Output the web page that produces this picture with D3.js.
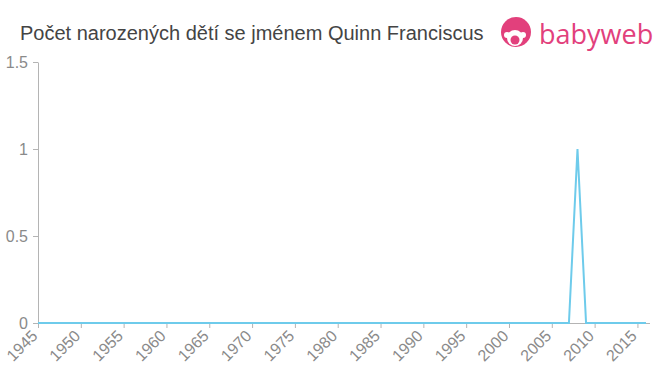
<!DOCTYPE html>
<html>
<head>
<meta charset="utf-8">
<script src="https://cdn.jsdelivr.net/npm/d3@7"></script>
<style>
body { margin: 0; background: #fff; font-family: "Liberation Sans", Arial, sans-serif; }
.axis path, .axis line { stroke: #b4b4b4; }
</style>
</head>
<body>
<div id="chart"></div>
<script>
// data
var years = d3.range(1945, 2017);
var births = years.map(function(y){ return y == 2008 ? 1 : 0; });
var xTicks = d3.range(1945, 2016, 5);
var yTicks = [0, 0.5, 1, 1.5];
var title = "Počet narozených dětí se jménem Quinn Franciscus";

var svg = d3.select("#chart").append("svg").attr("width", 660).attr("height", 375);

var x = d3.scaleLinear().domain([1945, 2016]).range([38, 646]);
var y = d3.scaleLinear().domain([0, 1.5]).range([323, 62]);

svg.append("text").attr("x", 20).attr("y", 40)
    .style("font-size", "20px").style("fill", "#444")
    .text(title);

// logo
var logo = svg.append("g").attr("transform", "translate(516,32)");
logo.append("circle").attr("r", 15).attr("fill", "#e2407c");
logo.append("circle").attr("cx", -1).attr("cy", 6).attr("r", 8).attr("fill", "#fff");
logo.append("circle").attr("cx", -1).attr("cy", 8).attr("r", 4.5).attr("fill", "#e2407c");
logo.append("circle").attr("cx", -9).attr("cy", 3).attr("r", 3).attr("fill", "#fff");
logo.append("circle").attr("cx", 7).attr("cy", 3).attr("r", 3).attr("fill", "#fff");
svg.append("text").attr("x", 539).attr("y", 44)
    .style("font-size", "27px").style("fill", "#e2407c")
    .style("font-family", "'Open Sans', 'DejaVu Sans', sans-serif")
    .text("babyweb");

var gx = svg.append("g").attr("class", "axis").attr("transform", "translate(0,323)")
    .call(d3.axisBottom(x).tickValues(xTicks).tickFormat(d3.format("d")).tickSize(5).tickSizeOuter(0));
gx.select(".domain").attr("d", "M38,0.5H650");
gx.selectAll("text")
    .style("font-size", "16px").style("fill", "#8a8a8a")
    .style("font-family", "'Liberation Sans', Arial, sans-serif")
    .attr("text-anchor", "end")
    .attr("x", 0).attr("y", 0)
    .attr("dx", 0).attr("dy", "0.35em")
    .attr("transform", "translate(-4,10) rotate(-45)");

var gy = svg.append("g").attr("class", "axis").attr("transform", "translate(38,0)")
    .call(d3.axisLeft(y).tickValues(yTicks).tickFormat(d3.format("")).tickSize(5).tickSizeOuter(0));
gy.selectAll("text").attr("x", -10)
    .style("font-size", "16px").style("fill", "#8a8a8a")
    .style("font-family", "'Liberation Sans', Arial, sans-serif");

var line = d3.line().x(function(d, i){ return x(years[i]); }).y(function(d){ return y(d); });
svg.append("path").datum(births)
    .attr("fill", "none").attr("stroke", "#6ecbeb").attr("stroke-width", 2)
    .attr("d", line);
</script>
</body>
</html>
